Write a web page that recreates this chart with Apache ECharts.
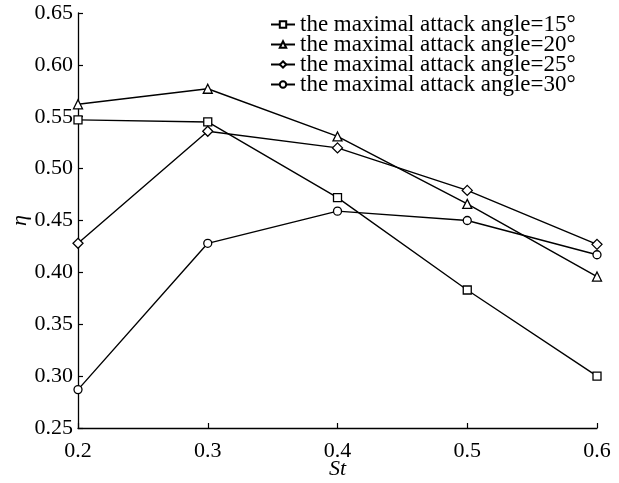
<!DOCTYPE html>
<html>
<head>
<meta charset="utf-8">
<script src="https://cdn.jsdelivr.net/npm/echarts@6/dist/echarts.min.js"></script>
<style>html,body{margin:0;padding:0;background:#fff;}#c{width:619px;height:483px;}</style>
</head>
<body>
<div id="c"></div>
<script>
var categories = ['0.2', '0.3', '0.4', '0.5', '0.6'];
var seriesNames = ['the maximal attack angle=15\u00b0', 'the maximal attack angle=20\u00b0', 'the maximal attack angle=25\u00b0', 'the maximal attack angle=30\u00b0'];
var angle15 = [0.547, 0.545, 0.472, 0.383, 0.300];
var angle20 = [0.562, 0.577, 0.531, 0.466, 0.396];
var angle25 = [0.428, 0.536, 0.520, 0.479, 0.427];
var angle30 = [0.287, 0.428, 0.459, 0.450, 0.417];
var symbols = ['rect', 'triangle', 'diamond', 'circle'];
var symbolSizes = [8, 9, 10, 8];
var allData = [angle15, angle20, angle25, angle30];

var font = 'Liberation Serif, Times New Roman, serif';
var chart = echarts.init(document.getElementById('c'));
var series = allData.map(function (d, i) {
  return {
    name: seriesNames[i],
    type: 'line',
    data: d,
    symbol: symbols[i],
    symbolSize: symbolSizes[i],
    showAllSymbol: true,
    lineStyle: { color: '#000', width: 1.4 },
    itemStyle: { color: '#fff', borderColor: '#000', borderWidth: 1.3 },
    emphasis: { disabled: true },
    animation: false
  };
});
chart.setOption({
  animation: false,
  grid: { left: 78, right: 22, top: 13, bottom: 55, containLabel: false, outerBoundsMode: 'none' },
  legend: {
    orient: 'vertical',
    left: 270,
    top: 13,
    padding: [0, 0, 0, 0],
    itemWidth: 24,
    itemHeight: 8,
    itemGap: -3,
    textStyle: { fontFamily: font, fontSize: 23, color: '#000', padding: [0, 0, 0, 0] },
    data: seriesNames
  },
  xAxis: {
    type: 'category',
    data: categories,
    boundaryGap: false,
    name: 'St',
    nameLocation: 'middle',
    nameGap: 30,
    nameMoveOverlap: false,
    nameTextStyle: { fontFamily: font, fontSize: 22, fontStyle: 'italic', color: '#000' },
    axisLine: { lineStyle: { color: '#000', width: 1.3 } },
    axisTick: { inside: true, length: 5, lineStyle: { color: '#000', width: 1.2 } },
    axisLabel: { fontFamily: font, fontSize: 22, color: '#000', margin: 12 },
    splitLine: { show: false }
  },
  yAxis: {
    type: 'value',
    min: 0.25,
    max: 0.65,
    interval: 0.05,
    name: '\u03b7',
    nameLocation: 'middle',
    nameGap: 47,
    nameMoveOverlap: false,
    nameRotate: 90,
    nameTextStyle: { fontFamily: font, fontSize: 22, fontStyle: 'italic', color: '#000' },
    axisLine: { show: true, lineStyle: { color: '#000', width: 1.3 } },
    axisTick: { show: true, inside: true, length: 5, lineStyle: { color: '#000', width: 1.2 } },
    axisLabel: { fontFamily: font, fontSize: 22, color: '#000', margin: 5,
      formatter: function (v) { return v.toFixed(2); } },
    splitLine: { show: false }
  },
  series: series
});
</script>
</body>
</html>
